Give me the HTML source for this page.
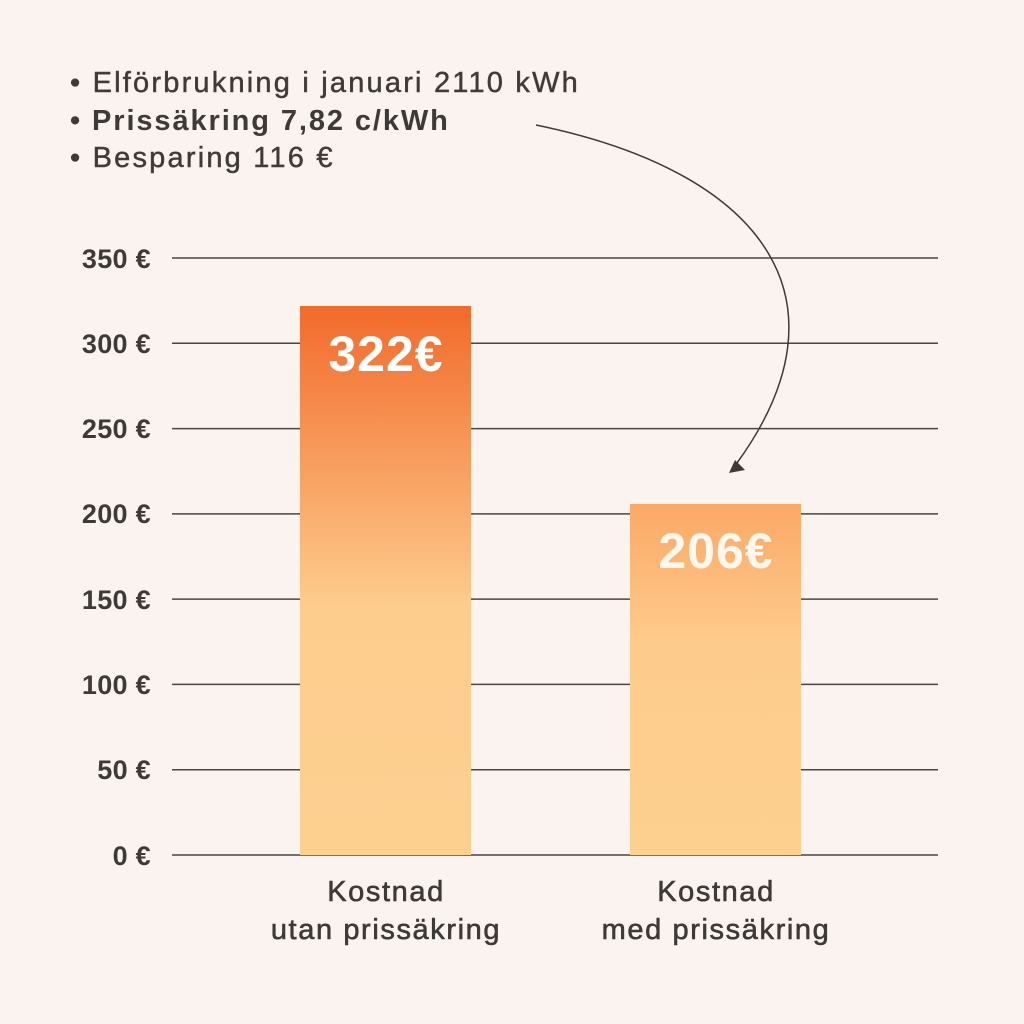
<!DOCTYPE html><html><head><style>
body{margin:0;background:#fbf3ef;}
svg{display:block}
text{font-family:"Liberation Sans",sans-serif;fill:#3d3a38}
</style></head><body>
<svg width="1024" height="1024" viewBox="0 0 1024 1024">
<defs>
<linearGradient id="g1" x1="0" y1="306" x2="0" y2="855" gradientUnits="userSpaceOnUse">
<stop offset="0" stop-color="#f26a2b"/><stop offset="0.55" stop-color="#fdcd8e"/><stop offset="1" stop-color="#fdd090"/></linearGradient>
<linearGradient id="g2" x1="0" y1="504" x2="0" y2="855" gradientUnits="userSpaceOnUse">
<stop offset="0" stop-color="#fca866"/><stop offset="0.4" stop-color="#fdcc8c"/><stop offset="1" stop-color="#fdd090"/></linearGradient>
</defs>
<rect width="1024" height="1024" fill="#fbf3ef"/>
<g stroke="#4a4643" stroke-width="1.5">
<line x1="172" x2="938" y1="258" y2="258"/><line x1="172" x2="938" y1="343.3" y2="343.3"/>
<line x1="172" x2="938" y1="428.6" y2="428.6"/><line x1="172" x2="938" y1="513.9" y2="513.9"/>
<line x1="172" x2="938" y1="599.1" y2="599.1"/><line x1="172" x2="938" y1="684.4" y2="684.4"/>
<line x1="172" x2="938" y1="769.7" y2="769.7"/><line x1="172" x2="938" y1="855" y2="855"/>
</g>
<rect x="300" y="306" width="171" height="549" fill="url(#g1)"/>
<rect x="630" y="504" width="171" height="351" fill="url(#g2)"/>
<g font-size="27" font-weight="bold" text-anchor="end" letter-spacing="0.3">
<text x="151" y="268">350 €</text><text x="151" y="353">300 €</text><text x="151" y="438">250 €</text>
<text x="151" y="523">200 €</text><text x="151" y="609">150 €</text><text x="151" y="694">100 €</text>
<text x="151" y="779">50 €</text><text x="151" y="865">0 €</text>
</g>
<text x="386" y="371" font-size="50" font-weight="bold" text-anchor="middle" letter-spacing="1" style="fill:#fff">322€</text>
<text x="716" y="568" font-size="50" font-weight="bold" text-anchor="middle" letter-spacing="1" style="fill:#fff8ee">206€</text>
<g font-size="29" text-anchor="middle" letter-spacing="1.6" stroke="#3d3a38" stroke-width="0.6">
<text x="386" y="901">Kostnad</text><text x="386" y="939">utan prissäkring</text>
<text x="716" y="901">Kostnad</text><text x="716" y="939">med prissäkring</text>
</g>
<g font-size="29" letter-spacing="2.2" style="fill:#4a4643">
<text x="70" y="92" stroke="#4a4643" stroke-width="0.5">• Elförbrukning i januari 2110 kWh</text>
<text x="70" y="130" font-weight="bold" letter-spacing="1.9" style="fill:#3d3a38">• Prissäkring 7,82 c/kWh</text>
<text x="70" y="167" stroke="#4a4643" stroke-width="0.5">• Besparing 116 €</text>
</g>
<path d="M536,125 C765,172 855,300 737,463" fill="none" stroke="#3d3a38" stroke-width="1.5"/>
<polygon points="729,473 745,470 735,460" fill="#3d3a38"/>
</svg>
</body></html>
